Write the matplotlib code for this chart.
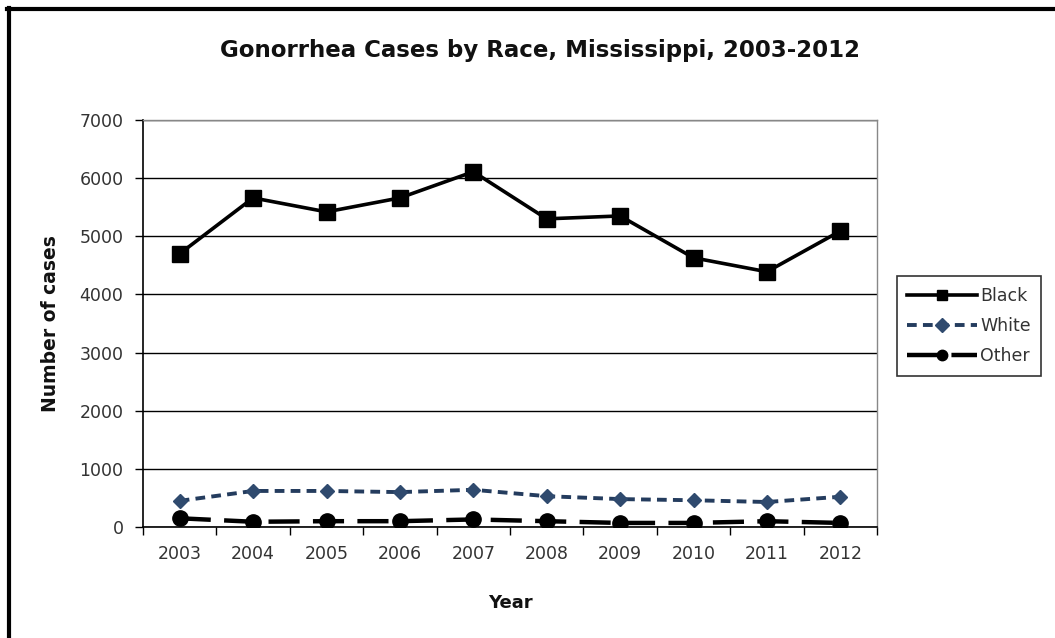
import matplotlib
matplotlib.use("Agg")
import matplotlib.pyplot as plt
from matplotlib.lines import Line2D
import numpy as np

years = ["2003", "2004", "2005", "2006", "2007", "2008", "2009", "2010", "2011", "2012"]
black = [4700, 5660, 5420, 5660, 6110, 5300, 5350, 4630, 4390, 5090]
white = [450, 620, 620, 600, 640, 530, 480, 460, 430, 520]
other = [150, 90, 100, 100, 130, 100, 70, 70, 100, 70]
yticks = [0, 1000, 2000, 3000, 4000, 5000, 6000, 7000]

W, H = 1055, 638
fig = plt.figure(figsize=(W / 100, H / 100), dpi=100)
fig.patch.set_facecolor("white")
ax = fig.add_axes([143 / W, 1 - 527 / H, (877 - 143) / W, (527 - 120) / H])

x = np.arange(len(years))
navy = "#243c5e"
ax.plot(x, black, color="black", lw=2.6, marker="s", markersize=11, label="Black", zorder=4)
ax.plot(x, white, color=navy, lw=2.8, ls=(0, (2.5, 1.6)), marker="D", markersize=7.5,
        markerfacecolor="#2f4a6e", markeredgecolor="#2f4a6e", label="White", zorder=4)
ax.plot(x, other, color="black", lw=3.2, ls=(0, (7, 3)), marker="o", markersize=11,
        label="Other", zorder=4)

ax.set_xlim(-0.5, len(years) - 0.5)
ax.set_ylim(0, 7000)
ax.set_yticks(yticks)
ax.set_yticklabels([str(v) for v in yticks])
ax.yaxis.grid(True, color="black", lw=1)
ax.set_axisbelow(True)

ax.set_xticks(x)
ax.set_xticklabels(years)
ax.set_xticks(np.arange(-0.5, len(years), 1), minor=True)
ax.tick_params(axis="x", which="major", length=0, pad=13, labelsize=12.5, labelcolor="#333333")
ax.tick_params(axis="x", which="minor", length=6, width=1, direction="out", color="black")
ax.tick_params(axis="y", length=6, width=1, direction="out", pad=8, labelsize=12.5,
               labelcolor="#333333")

for s in ["left", "bottom"]:
    ax.spines[s].set_color("black")
    ax.spines[s].set_linewidth(1.2)
for s in ["right", "top"]:
    ax.spines[s].set_color("#888888")
    ax.spines[s].set_linewidth(1)

ax.set_xlabel("Year", fontsize=13, fontweight="bold", labelpad=22, color="#111111")
ax.set_ylabel("Number of cases", fontsize=13.5, fontweight="bold", labelpad=14, color="#111111")
fig.text(540 / W, 1 - 50 / H, "Gonorrhea Cases by Race, Mississippi, 2003-2012",
         ha="center", va="center", fontsize=16.5, fontweight="bold", color="#111111")

leg = ax.legend(loc="center left", bbox_to_anchor=(897 / W, 1 - 326 / H),
                bbox_transform=fig.transFigure, frameon=True, fancybox=False,
                edgecolor="black", fontsize=12.5, handlelength=4.0, handletextpad=0.2,
                labelspacing=0.7, borderpad=0.6, borderaxespad=0)
leg.get_frame().set_linewidth(1.2)
for t in leg.get_texts():
    t.set_color("#333333")
for h in leg.legend_handles:
    h.set_markersize(7.5)

# outer frame (left and top edges visible)
fig.add_artist(Line2D([8.5 / W, 8.5 / W], [0, 1 - 8 / H], transform=fig.transFigure,
                      color="black", lw=3))
fig.add_artist(Line2D([7 / W, 1], [1 - 8.5 / H, 1 - 8.5 / H], transform=fig.transFigure,
                      color="black", lw=3))

fig.savefig("out.png", dpi=100)
